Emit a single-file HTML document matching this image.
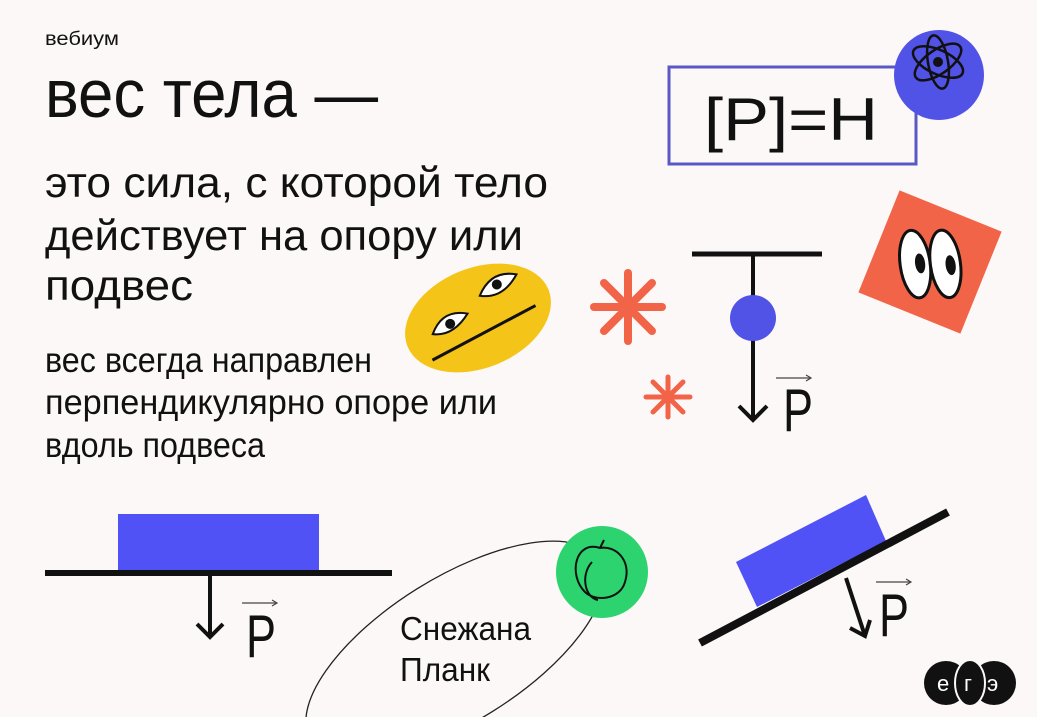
<!DOCTYPE html>
<html><head><meta charset="utf-8"><style>
html,body{margin:0;padding:0;background:#fcf8f7;overflow:hidden;width:1037px;height:717px}
svg{display:block;overflow:hidden}
text{font-family:"Liberation Sans",sans-serif;fill:#111}
</style></head><body>
<svg width="1037" height="717" viewBox="0 0 1037 717" xmlns="http://www.w3.org/2000/svg">
<defs><clipPath id="c"><rect width="1037" height="717"/></clipPath></defs>
<g clip-path="url(#c)">
<rect width="1037" height="717" fill="#fcf8f7"/>
<text x="45" y="45" font-size="19" textLength="74" lengthAdjust="spacingAndGlyphs">вебиум</text>
<text x="45" y="117" font-size="68" textLength="333" lengthAdjust="spacingAndGlyphs">вес тела —</text>
<text x="45" y="197" font-size="43" textLength="503" lengthAdjust="spacingAndGlyphs">это сила, с которой тело</text>
<text x="45" y="250" font-size="43" textLength="478" lengthAdjust="spacingAndGlyphs">действует на опору или</text>
<text x="45" y="300" font-size="43" textLength="148" lengthAdjust="spacingAndGlyphs">подвес</text>
<text x="45" y="372" font-size="35" textLength="327" lengthAdjust="spacingAndGlyphs">вес всегда направлен</text>
<text x="45" y="414" font-size="35" textLength="452" lengthAdjust="spacingAndGlyphs">перпендикулярно опоре или</text>
<text x="45" y="457" font-size="35" textLength="220" lengthAdjust="spacingAndGlyphs">вдоль подвеса</text>

<rect x="669" y="67" width="247" height="97" fill="none" stroke="#5a58c4" stroke-width="3"/>
<text x="704" y="140" font-size="60" textLength="174" lengthAdjust="spacingAndGlyphs">[P]=H</text>
<circle cx="939" cy="75" r="45" fill="#5152e6"/>
<g fill="none" stroke="#111" stroke-width="2.5">
<ellipse cx="938" cy="62" rx="27" ry="12" transform="rotate(25 938 62)"/>
<ellipse cx="938" cy="62" rx="27" ry="12" transform="rotate(-35 938 62)"/>
<ellipse cx="938" cy="62" rx="10" ry="27" transform="rotate(-10 938 62)"/>
</g>
<circle cx="938" cy="62" r="5" fill="#111"/>

<line x1="692" y1="254" x2="822" y2="254" stroke="#111" stroke-width="5"/>
<line x1="753" y1="254" x2="753" y2="420" stroke="#111" stroke-width="4"/>
<circle cx="753" cy="318" r="23" fill="#5152e6"/>
<polyline points="739,406 753,420 767,406" fill="none" stroke="#111" stroke-width="4"/>
<text x="783" y="431" font-size="60" textLength="30" lengthAdjust="spacingAndGlyphs">P</text>
<line x1="776" y1="378" x2="810" y2="378" stroke="#444" stroke-width="1.2"/>
<polyline points="806,375 811,378 806,381" fill="none" stroke="#444" stroke-width="1.2"/>

<g stroke="#f26448" stroke-linecap="round">
<g stroke-width="8" transform="translate(628,307)">
<line x1="0" y1="-34" x2="0" y2="34"/><line x1="-34" y1="0" x2="34" y2="0"/>
<line x1="-24" y1="-24" x2="24" y2="24"/><line x1="-24" y1="24" x2="24" y2="-24"/>
</g>
<g stroke-width="5" transform="translate(668,397)">
<line x1="0" y1="-20" x2="0" y2="20"/><line x1="-22" y1="0" x2="22" y2="0"/>
<line x1="-15" y1="-15" x2="15" y2="15"/><line x1="-15" y1="15" x2="15" y2="-15"/>
</g>
</g>

<g transform="translate(930,262) rotate(22)">
<rect x="-55" y="-55" width="110" height="110" fill="#f26448"/>
<g transform="rotate(-30)">
<ellipse cx="-15" cy="0" rx="15" ry="34" fill="#fff" stroke="#111" stroke-width="3"/>
<ellipse cx="15" cy="4" rx="15" ry="34" fill="#fff" stroke="#111" stroke-width="3"/>
<ellipse cx="-10" cy="0" rx="5" ry="10" fill="#111"/>
<ellipse cx="20" cy="6" rx="5" ry="10" fill="#111"/>
</g>
</g>

<g transform="translate(478,318) rotate(-22)">
<ellipse cx="0" cy="0" rx="76" ry="50" fill="#f5c419"/>
<path d="M-48,-2 Q-30,-22 -8,-8 Q-30,8 -48,-2Z" fill="#fff" stroke="#111" stroke-width="2"/>
<circle cx="-28" cy="-5" r="5" fill="#111"/>
<path d="M10,-20 Q30,-40 52,-26 Q30,-8 10,-20Z" fill="#fff" stroke="#111" stroke-width="2"/>
<circle cx="30" cy="-24" r="5" fill="#111"/>
<line x1="-58" y1="22" x2="58" y2="10" stroke="#111" stroke-width="3"/>
</g>

<rect x="118" y="514" width="201" height="58" fill="#5152f5"/>
<line x1="45" y1="573" x2="392" y2="573" stroke="#111" stroke-width="6"/>
<line x1="210" y1="573" x2="210" y2="637" stroke="#111" stroke-width="4"/>
<polyline points="197,624 210,637 223,624" fill="none" stroke="#111" stroke-width="4"/>
<text x="246" y="657" font-size="60" textLength="30" lengthAdjust="spacingAndGlyphs">P</text>
<line x1="242" y1="603" x2="276" y2="603" stroke="#444" stroke-width="1.2"/>
<polyline points="272,600 277,603 272,606" fill="none" stroke="#444" stroke-width="1.2"/>

<ellipse cx="455" cy="650" rx="170" ry="72" fill="none" stroke="#222" stroke-width="1.3" transform="rotate(-32 455 650)"/>
<circle cx="602" cy="572" r="46" fill="#2dd36f"/>
<g fill="none" stroke="#111" stroke-width="2">
<path d="M600,548 C575,540 568,575 585,592 C595,602 620,600 625,582 C632,560 615,545 600,548Z"/>
<path d="M592,562 C580,575 585,598 598,600"/>
<path d="M600,548 L604,540"/>
</g>
<text x="400" y="640" font-size="33" textLength="131" lengthAdjust="spacingAndGlyphs">Снежана</text>
<text x="400" y="681" font-size="33" textLength="90" lengthAdjust="spacingAndGlyphs">Планк</text>

<polygon points="736,562 866,495 886,541 757,607" fill="#5152f5"/>
<line x1="700" y1="643" x2="948" y2="512" stroke="#111" stroke-width="8"/>
<line x1="846" y1="578" x2="865" y2="636" stroke="#111" stroke-width="4"/>
<polyline points="850,628 865,636 870,620" fill="none" stroke="#111" stroke-width="4"/>
<text x="879" y="636" font-size="60" textLength="30" lengthAdjust="spacingAndGlyphs">P</text>
<line x1="876" y1="582" x2="910" y2="582" stroke="#444" stroke-width="1.2"/>
<polyline points="906,579 911,582 906,585" fill="none" stroke="#444" stroke-width="1.2"/>

<circle cx="946" cy="683" r="22" fill="#111"/>
<circle cx="994" cy="683" r="22" fill="#111"/>
<ellipse cx="970" cy="683" rx="15" ry="23" fill="#111" stroke="#fcf8f7" stroke-width="2"/>
<text x="937" y="691" font-size="22" style="fill:#fff">e</text>
<text x="964" y="691" font-size="22" style="fill:#fff">г</text>
<text x="987" y="691" font-size="22" style="fill:#fff">э</text>
</g>
</svg>
</body></html>
